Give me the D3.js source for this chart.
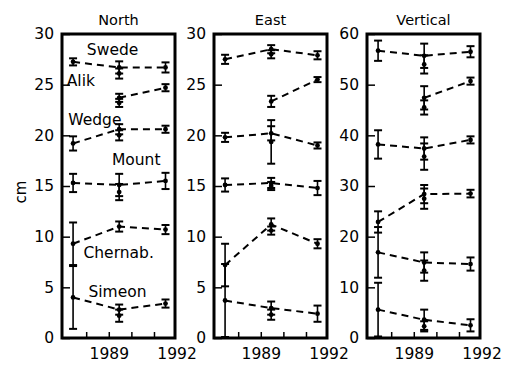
<!DOCTYPE html>
<html lang="en">
<head>
<meta charset="utf-8">
<title>Station displacements</title>
<script src="https://d3js.org/d3.v7.min.js"></script>
<style>
  body { margin: 0; background: #fff; }
  text { font-family: "DejaVu Sans", sans-serif; fill: #000; }
</style>
</head>
<body>
<div id="chart"></div>
<script>
// epochs of the three campaigns (decimal years)
const epochs = [1987.42, 1989.46, 1991.51];
const stations = ["Swede", "Alik", "Wedge", "Mount", "Chernab.", "Simeon"];
const panels = ["North", "East", "Vertical"];
const yMax = [30, 30, 60];
const yTicks = [[0, 5, 10, 15, 20, 25, 30], [0, 5, 10, 15, 20, 25, 30], [0, 10, 20, 30, 40, 50, 60]];
const xMinorTicks = [1988, 1989, 1990, 1991];
const xLabels = [1989, 1992];

// displacement (cm) per station at each epoch, and 1-sigma error
const northVal = [[27.25, 26.7, 26.7], [null, 23.7, 24.7], [19.2, 20.6, 20.6], [15.3, 15.1, 15.5], [9.3, 11.0, 10.7], [4.0, 2.8, 3.4]];
const northErr = [[0.35, 0.6, 0.5], [null, 0.4, 0.35], [0.7, 0.5, 0.35], [0.9, 1.1, 0.8], [2.1, 0.5, 0.45], [3.1, 0.5, 0.4]];
const eastVal = [[27.5, 28.5, 27.9], [null, 23.35, 25.5], [19.8, 20.2, 19.0], [15.1, 15.3, 14.8], [7.2, 11.2, 9.3], [3.7, 2.95, 2.4]];
const eastErr = [[0.45, 0.4, 0.4], [null, 0.55, 0.25], [0.45, 0.7, 0.3], [0.65, 0.5, 0.7], [2.1, 0.6, 0.45], [3.6, 0.65, 0.8]];
const vertVal = [[56.7, 55.7, 56.5], [null, 47.4, 50.7], [38.2, 37.4, 39.1], [22.9, 28.4, 28.5], [16.9, 14.9, 14.6], [5.6, 3.6, 2.5]];
const vertErr = [[2.0, 2.4, 1.1], [null, 2.3, 0.7], [2.8, 2.2, 0.7], [2.1, 1.8, 0.75], [5.0, 2.0, 1.3], [5.3, 2.0, 1.2]];

// second 1989 measurement
const northVal2 = [26.1, 23.2, 20.0, 14.4, null, 2.2];
const northErr2 = [0.5, 0.4, 0.5, 0.8, null, 0.6];
const eastVal2 = [28.0, null, 19.35, 15.0, 10.6, 2.3];
const eastErr2 = [0.4, null, 2.15, 0.4, 0.4, 0.5];
const vertVal2 = [54.0, 45.5, 35.8, 27.5, 13.3, 2.3];
const vertErr2 = [1.8, 1.4, 2.6, 2.0, 2.0, 1.0];

// station labels in the North panel (year at left edge, value at baseline)
const labelYear = [1988.03, 1987.14, 1987.21, 1989.14, 1987.88, 1988.1];
const labelVal = [27.9, 24.9, 21.0, 17.1, 7.9, 4.0];

const vals = [northVal, eastVal, vertVal];
const errs = [northErr, eastErr, vertErr];
const vals2 = [northVal2, eastVal2, vertVal2];
const errs2 = [northErr2, eastErr2, vertErr2];

const width = 510, height = 371;
const panelLeft = [62, 214, 367], panelW = 113, plotTop = 34, plotBottom = 338;

const svg = d3.select("#chart").append("svg")
  .attr("width", width)
  .attr("height", height);

panels.forEach(function (name, p) {
  const left = panelLeft[p];
  const x = d3.scaleLinear().domain([1986.93, 1991.93]).range([left, left + panelW]);
  const y = d3.scaleLinear().domain([0, yMax[p]]).range([plotBottom, plotTop]);
  const g = svg.append("g");

  // y axis, ticks pointing inward
  const ya = g.append("g")
    .attr("transform", "translate(" + left + ",0)")
    .call(d3.axisLeft(y).tickValues(yTicks[p]).tickSize(-8).tickPadding(8));
  ya.select(".domain").remove();
  ya.selectAll("line").attr("stroke-width", 1.5);
  ya.selectAll("text").style("font-size", "15.5px").attr("font-family", null);

  // minor bottom ticks
  const xa = g.append("g")
    .attr("transform", "translate(0," + plotBottom + ")")
    .call(d3.axisBottom(x).tickValues(xMinorTicks).tickSize(-6).tickFormat(""));
  xa.select(".domain").remove();
  xa.selectAll("line").attr("stroke-width", 1.5);

  // year labels
  const xl = g.append("g")
    .attr("transform", "translate(0," + plotBottom + ")")
    .call(d3.axisBottom(x).tickValues(xLabels).tickSize(0).tickPadding(10).tickFormat(d3.format("d")));
  xl.select(".domain").remove();
  xl.selectAll("text").style("font-size", "15.5px").attr("font-family", null);

  // frame
  g.append("rect")
    .attr("x", left).attr("y", plotTop)
    .attr("width", panelW).attr("height", plotBottom - plotTop)
    .attr("fill", "none").attr("stroke", "#000").attr("stroke-width", 3);

  // title
  g.append("text")
    .attr("x", left + panelW / 2).attr("y", plotTop - 9)
    .attr("text-anchor", "middle")
    .style("font-size", "14.5px")
    .text(name);

  const line = d3.line().x(d => x(d.t)).y(d => y(d.v));

  stations.forEach(function (st, s) {
    const pts = epochs.map((t, i) => ({ t: t, v: vals[p][s][i], e: errs[p][s][i] }))
      .filter(d => d.v != null);
    const extra = vals2[p][s] != null ? [{ t: epochs[1], v: vals2[p][s], e: errs2[p][s] }] : [];
    const all = pts.concat(extra);

    g.append("path")
      .datum(pts)
      .attr("d", line)
      .attr("fill", "none")
      .attr("stroke", "#000")
      .attr("stroke-width", 2)
      .attr("stroke-dasharray", "7,5");

    const eb = g.append("g").selectAll("g").data(all).join("g");
    eb.append("line")
      .attr("x1", d => x(d.t)).attr("x2", d => x(d.t))
      .attr("y1", d => y(d.v - d.e)).attr("y2", d => y(d.v + d.e))
      .attr("stroke", "#000").attr("stroke-width", 1.6);
    eb.append("line")
      .attr("x1", d => x(d.t) - 4).attr("x2", d => x(d.t) + 4)
      .attr("y1", d => y(d.v + d.e)).attr("y2", d => y(d.v + d.e))
      .attr("stroke", "#000").attr("stroke-width", 2);
    eb.append("line")
      .attr("x1", d => x(d.t) - 4).attr("x2", d => x(d.t) + 4)
      .attr("y1", d => y(d.v - d.e)).attr("y2", d => y(d.v - d.e))
      .attr("stroke", "#000").attr("stroke-width", 2);
    eb.append("circle")
      .attr("cx", d => x(d.t)).attr("cy", d => y(d.v))
      .attr("r", 2.4).attr("fill", "#000");

    if (p === 0) {
      g.append("text")
        .attr("x", x(labelYear[s])).attr("y", y(labelVal[s]))
        .style("font-size", "15.5px")
        .text(st);
    }
  });
});

// y axis title
svg.append("text")
  .attr("transform", "translate(26,192) rotate(-90)")
  .attr("text-anchor", "middle")
  .style("font-size", "15px")
  .text("cm");
</script>
</body>
</html>
